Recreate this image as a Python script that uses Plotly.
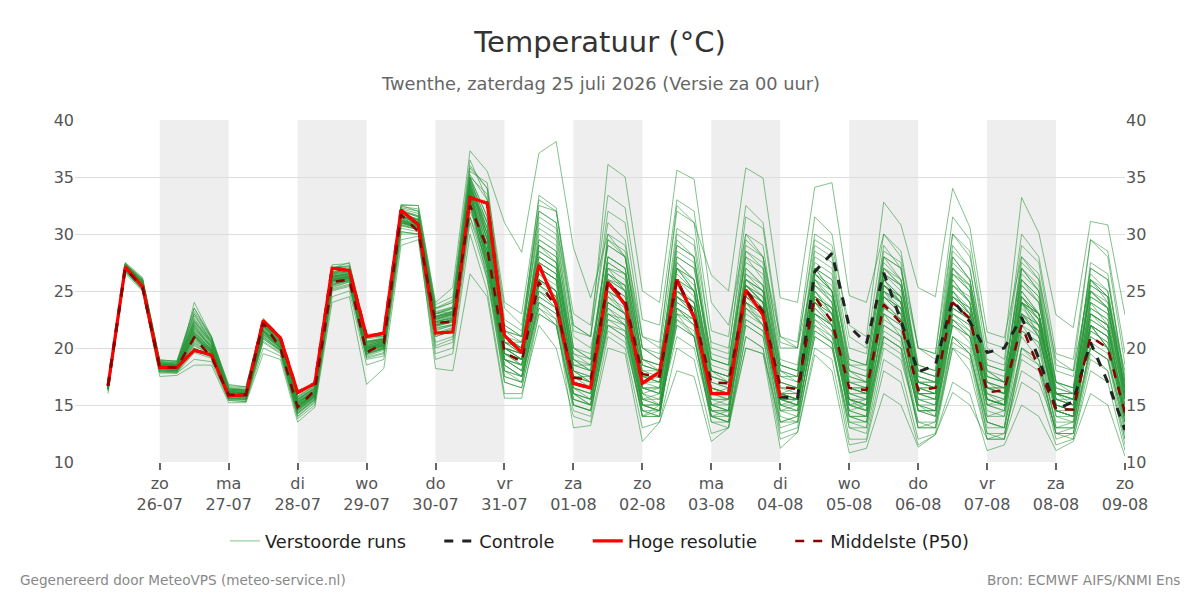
import plotly.graph_objects as go
import pandas as pd

# ---------------- data ----------------
times = pd.date_range("2026-07-25 06:00", periods=60, freq="6h")

tick_dates = ["2026-07-26", "2026-07-27", "2026-07-28", "2026-07-29", "2026-07-30",
              "2026-07-31", "2026-08-01", "2026-08-02", "2026-08-03", "2026-08-04",
              "2026-08-05", "2026-08-06", "2026-08-07", "2026-08-08", "2026-08-09"]
tick_days = ["zo", "ma", "di", "wo", "do", "vr", "za", "zo", "ma", "di", "wo", "do", "vr", "za", "zo"]
tick_dm = ["26-07", "27-07", "28-07", "29-07", "30-07", "31-07", "01-08", "02-08",
           "03-08", "04-08", "05-08", "06-08", "07-08", "08-08", "09-08"]
shade_days = ["2026-07-26", "2026-07-28", "2026-07-30", "2026-08-01",
              "2026-08-03", "2026-08-05", "2026-08-07"]

hres = [16.7, 27.1, 25.4, 18.3, 18.3, 19.8, 19.4, 15.8, 15.9, 22.4, 20.9, 16.1, 16.9, 27.0, 26.8,
        21.0, 21.3, 32.1, 30.8, 21.3, 21.4, 33.2, 32.7, 21.1, 19.6, 27.3, 23.8, 16.9, 16.5, 25.8,
        23.8, 16.9, 17.9, 26.0, 22.7, 16.0, 16.0, 25.1, 22.9, 15.7]

control = [16.7, 27.1, 25.4, 18.3, 18.3, 19.8, 19.4, 15.8, 15.9, 22.4, 20.9, 16.1, 16.9, 27.0, 26.8,
           21.0, 21.3, 32.1, 30.8, 21.3, 21.4, 33.2, 32.7, 21.1, 19.6, 27.3, 23.8, 16.9, 16.5, 25.8,
           23.8, 16.9, 17.9, 26.0, 22.7, 16.0, 16.0, 25.1, 22.9, 15.7, 15.6, 26.7, 28.3, 21.9, 20.4,
           26.6, 22.4, 17.9, 18.5, 24.2, 22.3, 19.6, 20.0, 22.7, 19.1, 14.6, 15.3, 20.5, 17.0, 12.8]

median = [16.7, 27.0, 25.3, 18.3, 18.3, 20.9, 19.2, 15.9, 15.9, 22.2, 20.0, 14.8, 16.3, 25.8, 26.0,
          19.6, 20.4, 31.7, 30.2, 22.2, 22.3, 32.5, 28.8, 19.6, 18.8, 25.8, 23.6, 17.4, 17.2, 25.8,
          24.2, 17.7, 17.5, 26.0, 22.9, 17.0, 16.9, 25.1, 23.2, 16.6, 16.4, 24.5, 22.3, 16.5, 16.3,
          23.8, 22.2, 16.3, 16.5, 24.0, 22.6, 16.1, 16.3, 22.0, 18.2, 14.6, 14.6, 21.0, 20.0, 14.3]

m01 = [16.6,27.3,25.8, 18.6,18.5,22.0,20.0, 16.2,16.0,22.0,20.5, 15.2,16.2,26.2,26.5, 20.2,20.6,31.8,31.0, 22.8,23.0,35.0,30.0, 21.0,20.0,30.0,29.0, 20.0,19.0,28.0,27.0, 18.5,18.0,29.0,28.0, 19.0,18.5,28.0,26.0, 18.0,17.0,27.0,25.0, 17.5,17.0,26.0,24.0, 17.0,16.5,25.0,23.0, 16.5,16.0,24.5,22.5, 16.0,15.5,23.0,21.5, 15.0]
m02 = [16.5,27.0,25.5, 18.2,18.0,21.0,19.5, 15.8,15.6,21.5,20.0, 14.5,15.8,27.0,27.5, 21.0,21.0,32.5,32.5, 24.0,25.3,37.3,35.5, 31.0,28.4,37.1,38.1, 28.8,24.4,30.0,28.0, 20.0,19.0,27.0,25.0, 18.0,17.5,24.0,22.0, 16.0,15.5,22.0,21.0, 15.5,14.5,21.0,20.0, 15.0,14.0,22.5,21.0, 16.0,15.0,24.0,23.0, 17.0,16.0,25.0,23.5, 16.5]
m03 = [16.7,27.4,26.0, 18.8,18.7,23.0,20.5, 16.5,16.3,22.3,20.8, 15.5,16.5,26.5,27.0, 20.5,20.8,32.0,31.5, 23.0,23.5,34.0,31.0, 22.0,21.0,33.4,32.3, 22.0,21.0,36.1,35.0, 25.0,24.0,35.6,34.8, 24.0,22.0,30.0,28.0, 21.0,20.0,27.0,25.0, 18.0,17.0,25.0,24.0, 17.0,16.5,26.0,24.0, 17.0,16.5,24.0,22.0, 16.0,15.5,22.0,20.0, 15.0]
m04 = [16.4,26.9,25.3, 18.0,18.0,20.5,19.5, 15.6,15.5,21.0,19.8, 14.2,15.5,25.5,26.0, 19.5,20.0,31.0,30.5, 22.0,22.5,33.0,28.0, 20.0,19.5,29.0,27.5, 19.0,18.0,30.0,29.0, 21.0,20.5,32.0,31.0, 26.4,25.0,35.8,34.9, 24.4,24.0,34.1,34.5, 24.6,24.0,30.0,28.0, 20.0,19.0,27.0,25.0, 18.0,17.0,24.0,22.0, 16.0,15.0,22.0,20.0, 15.5]
m05 = [16.6,27.1,25.7, 18.5,18.3,21.8,20.0, 16.0,16.0,22.0,20.5, 15.0,16.0,26.0,26.3, 20.0,20.5,31.5,31.0, 22.5,23.0,34.5,29.5, 20.5,19.5,28.0,27.0, 18.5,18.0,27.0,26.0, 18.0,17.5,28.0,27.0, 19.0,18.5,29.0,28.0, 20.0,20.0,30.0,29.0, 22.0,21.0,32.8,30.8, 25.3,24.5,34.0,30.6, 21.4,20.9,28.0,26.0, 19.0,18.0,26.0,24.0, 18.0]
m06 = [16.5,27.0,25.4, 18.4,18.2,21.2,19.8, 15.9,15.8,21.6,20.2, 14.8,15.9,26.2,26.6, 20.5,20.8,32.0,31.2, 23.0,23.2,34.0,27.0, 20.0,19.0,27.0,26.0, 18.0,17.0,26.0,25.0, 17.0,17.5,27.0,25.0, 17.5,17.0,26.0,25.0, 18.0,17.5,27.0,26.0, 19.0,18.5,28.0,27.0, 20.0,19.5,30.0,28.0, 20.5,20.0,33.2,30.1, 22.9,21.8,31.1,30.8, 22.9]
m07 = [16.0,26.5,25.0, 17.5,17.6,18.5,18.5, 15.2,15.2,19.5,19.0, 13.5,14.8,24.0,24.5, 16.8,18.2,29.0,29.5, 19.0,19.5,30.0,25.0, 16.0,16.0,22.0,20.0, 14.0,13.5,21.0,20.0, 13.0,13.5,20.0,19.0, 12.5,13.0,21.0,20.0, 12.0,12.6,20.0,19.0, 11.5,11.8,18.0,17.0, 11.5,12.4,17.0,16.0, 11.0,11.5,15.0,14.0, 11.0,11.8,16.0,15.0, 10.5]
m08 = [16.2,26.7,25.1, 17.8,17.8,19.0,18.8, 15.4,15.3,20.0,19.3, 13.8,15.0,24.5,25.0, 18.5,19.0,29.5,29.8, 19.5,20.0,31.0,26.0, 17.0,16.5,23.5,22.0, 15.0,14.5,22.0,21.0, 14.0,14.0,23.0,21.0, 13.5,13.0,22.0,21.0, 12.5,13.0,21.5,20.5, 12.0,12.0,19.0,18.0, 12.0,12.5,20.0,18.0, 12.0,12.0,17.0,16.0, 11.5,12.0,18.0,17.0, 11.0]
m09 = [16.3,26.8,25.2, 18.0,17.9,24.0,21.0, 15.5,15.4,20.5,19.5, 14.0,15.2,25.0,25.4, 19.0,19.3,30.0,30.0, 20.0,20.5,31.5,27.5, 17.5,17.0,24.0,22.5, 13.0,13.2,20.0,19.5, 11.8,13.5,18.0,17.5, 11.8,13.0,20.0,19.5, 11.2,12.6,19.4,18.0, 10.8,11.2,16.0,15.0, 11.3,12.4,16.1,15.0, 12.0,12.5,18.0,17.0, 13.0,13.0,20.0,19.0, 13.5]
m10 = [16.4,26.9,25.3, 18.1,18.0,20.0,19.2, 15.6,15.6,20.8,19.8, 14.3,15.5,25.3,25.8, 19.3,19.8,30.5,30.2, 20.5,21.0,32.0,28.5, 18.0,17.5,25.0,23.5, 15.5,15.0,23.0,22.0, 14.5,14.5,22.5,21.0, 14.0,14.0,23.5,22.0, 13.5,14.0,22.0,20.5, 13.0,13.0,21.0,20.0, 13.0,13.5,21.0,19.5, 12.5,12.5,19.0,18.0, 12.0,12.5,19.5,18.0, 11.5]
m11 = [16.5,27.2,25.6, 18.3,18.2,21.0,19.8, 16.0,15.9,21.2,20.1, 15.0,16.0,25.8,26.0, 19.5,20.0,31.0,30.8, 21.5,22.0,33.5,29.0, 19.5,19.0,27.0,26.0, 16.5,16.0,24.0,23.0, 15.5,15.5,24.0,23.0, 15.0,15.5,24.0,23.0, 15.5,15.0,23.5,22.0, 15.0,15.5,25.0,23.0, 16.0,16.0,22.0,21.0, 15.0,15.5,24.0,21.0, 14.5,14.0,22.0,20.0, 14.0]
m12 = [16.7,27.5,26.2, 19.0,18.8,23.5,20.8, 16.8,16.6,22.5,21.0, 16.0,17.0,27.0,27.2, 21.0,21.2,32.5,32.0, 23.5,24.0,35.0,33.5, 21.5,20.5,31.5,30.5, 20.0,19.5,29.0,28.0, 19.0,18.5,27.0,26.0, 18.0,17.5,25.0,24.0, 17.0,16.5,26.0,25.0, 17.5,17.0,27.0,26.0, 18.0,17.5,26.0,24.0, 17.0,16.0,23.0,21.0, 15.0,14.5,21.0,20.0, 14.5]
m13 = [16.6,27.0,25.5, 18.6,18.5,22.0,20.3, 16.3,16.2,21.5,20.3, 15.3,16.3,26.3,26.5, 20.0,20.5,31.2,30.9, 22.0,22.5,34.0,30.5, 20.0,19.0,28.0,27.0, 18.0,17.0,25.5,24.0, 16.5,16.0,26.0,24.5, 16.0,15.5,27.0,25.5, 16.0,16.5,25.0,23.0, 15.0,14.5,24.0,22.5, 16.0,15.5,24.0,23.0, 15.5,15.0,23.0,22.0, 14.5,14.0,24.0,23.0, 16.0]
m14 = [16.5,27.1,25.6, 18.4,18.3,21.3,19.9, 16.1,16.0,21.9,20.4, 15.1,16.1,26.1,26.4, 20.1,20.3,31.7,30.7, 22.3,22.6,33.8,28.0, 19.0,18.0,26.0,25.0, 17.0,16.5,28.0,27.0, 19.0,18.0,29.5,28.0, 18.0,17.0,28.5,27.0, 17.0,16.5,24.0,22.0, 15.5,15.0,22.0,21.0, 14.5,14.5,23.0,22.0, 15.0,15.0,21.0,19.0, 13.5,13.5,20.0,19.0, 13.0]
m15 = [16.6,27.3,25.9, 18.7,18.6,22.3,20.6, 16.4,16.3,22.1,20.7, 15.6,16.6,26.7,26.9, 20.6,20.9,32.2,31.8, 23.2,23.6,35.5,34.5, 22.5,21.5,32.0,31.0, 21.0,20.0,27.0,25.0, 17.5,17.0,25.0,23.5, 16.5,16.0,25.5,24.0, 16.0,16.0,26.0,24.0, 16.5,16.0,25.0,24.0, 17.0,17.0,28.0,26.0, 18.0,17.5,27.0,25.0, 17.0,16.5,25.0,23.5, 16.5]
m16 = [16.4,26.8,25.2, 18.0,17.9,20.0,19.3, 15.6,15.5,21.0,19.8, 14.4,15.6,25.5,25.9, 19.6,20.0,30.8,30.4, 21.0,21.5,32.5,27.0, 18.5,17.5,24.0,23.0, 16.0,15.0,23.0,22.0, 15.0,14.5,24.5,23.0, 14.5,14.0,25.5,24.5, 15.0,15.5,24.0,22.5, 14.0,13.5,23.0,21.0, 14.5,14.5,25.0,23.0, 15.5,15.0,27.0,25.0, 15.5,15.0,24.0,22.0, 14.0]
m17 = [16.8,27.4,26.0, 18.9,18.9,23.5,21.0, 16.7,16.6,22.6,21.0, 15.8,16.8,27.3,27.4, 21.2,21.3,32.6,32.5, 23.8,24.5,36.5,33.0, 21.0,20.0,29.0,28.0, 19.5,18.5,29.5,28.5, 20.0,19.5,30.5,29.5, 20.5,20.0,30.0,29.0, 19.0,18.5,28.0,27.0, 18.0,17.5,28.0,27.0, 18.5,18.0,29.0,27.0, 18.0,17.0,27.5,26.0, 17.0,16.5,27.0,26.0, 17.5]
m18 = [16.5,27.0,25.5, 18.3,18.2,20.8,19.6, 15.9,15.8,21.4,20.0, 14.7,15.8,25.9,26.1, 19.8,20.2,31.0,30.5, 21.8,22.0,33.2,28.5, 19.0,18.5,26.5,25.0, 16.0,15.5,24.5,23.0, 15.0,15.0,23.5,22.0, 14.5,14.5,22.5,21.5, 15.0,14.5,21.5,20.5, 13.5,13.0,22.0,21.0, 14.5,14.0,23.5,22.5, 15.0,14.5,22.0,20.0, 13.0,13.5,21.5,20.5, 13.5]
m19 = [16.6,27.2,25.7, 18.5,18.4,21.6,20.1, 16.1,16.1,22.0,20.4, 15.1,16.2,26.3,26.5, 20.2,20.6,31.6,31.2, 22.6,23.0,34.5,30.0, 20.5,20.0,29.0,28.0, 18.5,18.5,25.0,23.0, 16.0,15.0,21.0,20.0, 14.0,13.5,20.0,19.5, 13.5,14.0,22.5,21.0, 14.5,15.0,25.5,24.0, 16.5,16.0,24.5,23.5, 17.0,16.5,26.0,24.0, 16.0,15.5,23.0,22.0, 15.5]
m20 = [16.3,26.7,25.1, 17.9,17.9,19.8,19.2, 15.5,15.5,20.8,19.7, 14.2,15.4,25.2,25.6, 19.2,19.6,30.2,30.0, 20.2,20.8,31.5,26.5, 17.0,16.5,23.0,22.0, 14.5,14.0,22.5,21.5, 14.0,14.5,23.5,22.5, 15.0,15.0,24.5,23.5, 16.0,15.5,26.5,25.0, 17.0,16.5,27.0,25.5, 17.5,17.0,25.5,24.0, 16.5,16.0,25.0,23.0, 15.0,14.5,26.0,25.0, 17.0]
m21 = [16.7,27.3,25.9, 18.7,18.5,22.8,20.8, 16.4,16.3,22.2,20.6, 15.5,16.5,26.6,26.8, 20.5,20.8,32.0,31.5, 23.0,23.5,35.0,31.5, 20.0,19.5,28.5,27.5, 18.0,17.5,28.0,27.0, 18.5,18.0,28.5,27.5, 18.0,17.5,27.0,25.5, 17.5,17.0,25.0,23.0, 16.0,15.5,26.5,25.5, 17.0,16.5,28.0,26.0, 17.5,17.0,28.0,26.5, 18.0,17.5,26.5,25.0, 16.0]
m22 = [16.5,27.1,25.6, 18.4,18.2,21.4,19.8, 16.0,15.9,21.7,20.2, 14.9,15.9,26.0,26.2, 19.9,20.3,31.3,30.6, 22.0,22.3,33.5,28.5, 18.5,17.5,25.5,24.5, 16.5,16.0,25.0,24.0, 16.5,16.5,26.0,25.0, 16.5,16.0,25.0,23.5, 15.0,15.0,24.0,23.0, 15.5,15.0,24.0,22.5, 14.5,14.0,22.0,20.5, 13.0,13.0,20.0,19.0, 12.5,13.0,22.0,21.0, 14.0]
m23 = [16.6,27.2,25.8, 18.6,18.5,22.2,20.4, 16.2,16.2,22.1,20.5, 15.3,16.3,26.4,26.7, 20.3,20.7,31.8,31.2, 22.8,23.2,34.8,31.0, 20.5,19.5,27.5,26.5, 17.5,16.5,27.0,26.5, 18.5,18.0,30.0,29.0, 19.0,18.5,29.5,28.0, 18.5,18.0,29.0,28.0, 19.0,18.5,28.5,27.5, 17.5,17.0,27.5,26.0, 18.5,18.0,26.0,24.5, 16.5,16.0,27.5,26.5, 17.0]
m24 = [16.4,26.9,25.4, 18.2,18.1,20.6,19.6, 15.8,15.7,21.3,20.0, 14.6,15.7,25.8,26.1, 19.8,20.2,31.1,30.7, 21.7,22.1,33.0,27.5, 19.5,18.5,26.0,25.0, 17.0,16.5,23.5,22.0, 15.0,14.5,22.0,21.0, 13.5,13.5,21.0,20.0, 13.0,13.5,23.0,22.0, 14.0,14.0,24.5,23.5, 15.5,15.0,23.0,22.0, 14.0,14.5,22.5,21.5, 14.0,14.0,21.5,20.5, 13.5]
m25 = [16.6,27.2,25.7, 18.5,18.4,21.9,20.2, 16.2,16.0,21.9,20.5, 15.2,16.2,26.2,26.4, 20.1,20.5,31.5,31.0, 22.5,22.9,34.0,30.0, 21.5,21.0,30.5,29.5, 19.0,18.5,26.5,25.5, 17.5,17.0,25.0,23.5, 16.5,16.0,26.0,24.5, 16.0,15.5,25.5,24.0, 16.5,16.0,25.0,23.5, 16.0,16.0,23.0,21.5, 15.5,15.0,22.0,21.0, 15.0,14.5,23.0,22.0, 15.5]
m26 = [16.5,27.0,25.5, 18.3,18.3,21.1,19.7, 16.0,15.8,21.5,20.1, 14.8,15.9,26.0,26.2, 19.9,20.2,31.2,30.6, 22.2,22.5,33.6,28.0, 18.0,17.0,24.5,23.5, 15.5,15.0,25.0,24.0, 15.5,16.0,27.5,26.0, 17.5,17.0,26.5,25.5, 17.0,16.5,24.5,23.5, 16.5,16.0,23.0,22.0, 15.0,14.5,21.0,19.5, 13.5,13.0,20.0,18.5, 12.5,12.0,19.0,18.0, 12.0]
m27 = [16.7,27.3,25.9, 18.8,18.6,22.5,20.6, 16.4,16.3,22.3,20.7, 15.5,16.5,26.7,26.8, 20.6,20.8,32.1,31.6, 23.1,23.6,35.2,33.0, 23.5,22.0,32.0,31.0, 22.0,21.0,31.0,29.5, 20.0,19.0,28.0,27.0, 19.5,19.0,27.5,26.5, 18.5,18.0,26.5,25.5, 18.0,17.5,25.5,24.5, 17.0,16.5,25.5,24.5, 17.5,17.0,25.0,23.0, 16.5,16.0,26.0,24.5, 16.5]
m28 = [16.4,26.9,25.3, 18.2,18.1,20.4,19.5, 15.7,15.7,21.2,19.9, 14.5,15.6,25.6,25.9, 19.5,20.0,30.9,30.5, 21.3,21.8,32.8,27.0, 19.0,18.0,25.0,24.0, 16.0,15.5,23.5,22.5, 14.5,14.0,24.0,23.0, 14.0,14.5,25.5,24.5, 15.5,15.0,25.5,24.0, 15.0,14.5,26.0,24.5, 16.5,16.0,24.0,22.5, 15.5,15.0,24.0,23.0, 15.5,15.0,24.5,23.5, 15.5]
m29 = [16.6,27.1,25.6, 18.4,18.3,21.4,19.9, 16.0,16.0,21.8,20.3, 15.0,16.0,26.1,26.3, 20.0,20.4,31.4,30.8, 22.3,22.7,33.8,29.5, 20.0,19.0,27.5,26.5, 17.0,16.5,26.0,25.0, 16.5,16.5,24.5,23.0, 15.0,14.5,23.5,22.5, 14.5,14.5,24.0,22.5, 15.5,15.0,27.0,25.5, 17.0,16.5,26.5,25.0, 16.5,16.0,24.0,22.5, 15.0,14.5,23.5,22.5, 15.0]
m30 = [16.5,27.0,25.5, 18.3,18.2,21.0,19.7, 15.9,15.9,21.6,20.1, 14.9,16.0,26.0,26.2, 20.0,20.3,31.2,30.7, 22.2,22.4,33.4,28.0, 19.0,18.5,26.0,24.5, 16.0,15.5,24.0,23.0, 15.5,15.0,23.0,22.0, 14.5,14.5,24.5,23.5, 15.5,15.0,23.0,21.5, 14.0,13.5,21.5,20.5, 13.5,13.5,22.5,21.0, 14.5,14.0,23.5,22.0, 14.5,14.5,21.0,20.0, 13.0]
m31 = [16.6,27.2,25.8, 18.6,18.5,22.4,20.5, 16.3,16.2,22.2,20.6, 15.4,16.4,26.5,26.7, 20.4,20.7,31.7,31.3, 22.7,23.2,34.6,30.5, 20.5,20.5,28.5,27.5, 19.5,19.0,29.5,28.0, 19.0,18.5,27.5,26.0, 18.0,17.5,28.5,27.5, 18.5,18.0,27.5,26.5, 18.5,18.5,29.0,27.0, 18.0,17.5,26.5,25.5, 17.5,17.0,24.5,22.5, 16.0,15.5,25.5,24.5, 16.5]
m32 = [16.5,27.1,25.6, 18.4,18.3,21.5,19.9, 16.1,16.0,21.8,20.3, 15.0,16.0,26.1,26.3, 20.0,20.4,31.5,31.0, 22.4,22.8,34.0,29.0, 20.0,19.0,26.5,25.5, 17.5,17.0,25.5,24.5, 17.0,16.5,25.5,24.0, 16.5,16.0,24.0,23.0, 16.0,15.5,25.0,23.5, 16.0,15.5,23.5,22.5, 16.0,15.5,24.5,23.0, 16.0,15.5,23.0,21.0, 14.5,14.0,22.5,21.5, 14.5]
m33 = [16.4,26.8,25.3, 18.1,18.0,20.2,19.4, 15.7,15.6,21.1,19.9, 14.5,15.7,25.6,25.9, 19.5,19.9,30.8,30.4, 21.0,21.6,32.6,26.0, 18.5,17.5,23.5,22.5, 15.0,14.5,21.5,20.5, 14.5,14.0,23.0,22.5, 15.5,15.5,25.5,24.0, 15.5,15.5,26.5,25.0, 16.5,16.5,25.5,24.0, 17.0,17.0,27.0,25.5, 16.5,16.5,26.0,24.5, 16.0,15.5,25.5,24.5, 16.0]
m34 = [16.7,27.4,26.0, 18.8,18.7,23.0,20.9, 16.5,16.4,22.4,20.8, 15.7,16.7,27.0,27.1, 20.8,21.0,32.3,32.0, 23.4,24.0,35.8,34.0, 22.0,21.0,32.5,32.0, 21.5,21.0,32.0,31.0, 21.0,20.0,32.5,31.0, 20.0,19.5,31.5,30.5, 20.5,20.0,29.5,28.5, 20.0,19.5,28.0,26.0, 18.5,18.0,30.0,28.5, 19.0,18.5,29.0,27.5, 18.5,18.0,29.5,28.0, 18.5]
m35 = [16.5,27.0,25.4, 18.3,18.2,20.9,19.6, 15.9,15.8,21.4,20.0, 14.7,15.8,25.9,26.1, 19.7,20.1,31.0,30.6, 21.9,22.3,33.3,27.5, 19.5,19.0,25.5,24.0, 16.5,15.5,22.0,21.5, 15.0,14.5,22.0,21.0, 14.0,13.5,22.5,21.5, 14.0,13.5,21.0,20.0, 13.0,12.5,20.0,19.0, 13.5,13.0,20.5,19.5, 13.5,13.0,21.5,20.5, 13.0,13.0,22.0,21.0, 13.5]
m36 = [16.6,27.2,25.7, 18.5,18.4,21.7,20.1, 16.2,16.1,22.0,20.4, 15.2,16.2,26.3,26.5, 20.2,20.6,31.6,31.1, 22.6,23.0,34.2,30.0, 20.5,20.0,29.5,28.5, 19.0,18.0,27.5,26.5, 17.5,17.0,26.5,25.0, 17.0,16.5,25.5,24.0, 16.5,16.5,24.5,23.0, 16.0,16.0,24.5,23.5, 16.5,16.0,25.0,23.5, 15.5,15.0,24.0,23.0, 15.5,15.0,23.5,22.5, 15.5]
m37 = [16.4,26.9,25.4, 18.2,18.1,20.7,19.7, 15.8,15.7,21.2,20.0, 14.6,15.7,25.7,26.0, 19.7,20.1,31.0,30.6, 21.6,22.0,33.0,26.5, 17.5,17.0,24.0,23.0, 15.0,14.5,22.5,22.0, 14.0,15.0,24.5,23.5, 15.0,14.5,23.5,22.0, 14.5,14.0,22.5,21.5, 14.0,14.0,22.5,21.5, 14.5,14.5,22.0,21.0, 13.5,13.0,24.5,23.0, 14.5,14.0,23.0,22.0, 14.0]
m38 = [16.6,27.1,25.6, 18.4,18.3,21.3,19.9, 16.0,15.9,21.7,20.2, 14.9,15.9,26.0,26.3, 20.0,20.4,31.4,30.8, 22.3,22.7,34.0,29.0, 19.5,18.5,27.0,26.0, 17.5,17.5,26.5,25.0, 16.5,16.0,25.0,24.0, 16.0,16.5,26.5,25.0, 16.5,16.0,26.0,24.5, 16.5,16.5,26.5,25.0, 16.5,16.5,25.5,24.0, 16.5,16.0,26.5,25.0, 16.0,16.0,26.0,24.5, 16.5]
m39 = [16.5,27.0,25.5, 18.3,18.2,21.1,19.7, 15.9,15.8,21.5,20.1, 14.8,15.9,25.9,26.2, 19.9,20.2,31.2,30.7, 22.1,22.5,33.6,27.5, 19.0,18.0,25.0,24.0, 16.0,15.0,23.0,22.5, 15.0,14.5,23.5,22.0, 14.5,14.0,24.0,23.0, 14.5,15.0,23.0,22.0, 14.5,14.0,21.0,20.0, 13.0,13.0,20.0,19.0, 12.0,12.0,19.5,18.5, 12.5,12.5,20.0,19.0, 12.0]
m40 = [16.7,27.3,25.9, 18.7,18.6,22.6,20.7, 16.4,16.3,22.3,20.7, 15.5,16.5,26.6,26.8, 20.5,20.8,32.0,31.6, 23.0,23.4,35.0,31.5, 21.0,20.0,29.5,28.5, 18.0,17.5,26.0,25.5, 18.0,18.0,27.0,26.0, 17.5,17.0,26.0,25.0, 17.5,17.5,26.5,25.0, 17.0,17.0,26.5,25.5, 17.5,17.0,27.0,25.5, 17.0,16.5,25.5,24.0, 16.0,16.0,25.0,24.0, 16.0]
m41 = [16.5,27.1,25.6, 18.4,18.3,21.2,19.8, 16.0,15.9,21.6,20.2, 14.9,15.9,26.0,26.3, 20.0,20.3,31.3,30.8, 22.3,22.6,33.8,28.5, 19.5,19.0,26.0,25.0, 17.0,16.5,25.0,24.0, 16.0,15.5,24.5,23.5, 15.5,15.5,24.5,23.0, 15.5,15.0,24.0,23.0, 15.5,15.0,24.5,23.0, 15.5,15.5,23.5,22.5, 15.5,15.0,23.0,22.0, 15.0,14.5,22.5,21.5, 14.5]
m42 = [16.6,27.2,25.7, 18.5,18.4,21.8,20.2, 16.2,16.1,22.0,20.4, 15.2,16.2,26.3,26.5, 20.2,20.6,31.6,31.1, 22.7,23.1,34.3,30.5, 21.0,20.5,28.0,27.0, 18.5,18.0,27.5,26.5, 17.5,17.5,27.0,25.5, 17.0,16.5,25.0,24.0, 16.0,16.0,25.5,24.5, 16.5,16.0,25.5,24.0, 16.0,15.5,24.5,23.5, 16.5,16.0,24.0,22.5, 15.5,15.0,24.5,23.5, 15.5]
m43 = [16.4,26.8,25.3, 18.1,18.0,20.3,19.4, 15.6,15.5,20.9,19.8, 14.3,15.5,25.4,25.8, 19.4,19.9,30.7,30.4, 21.2,21.7,32.7,27.0, 18.0,17.5,24.5,23.5, 15.5,15.0,24.0,23.0, 15.0,15.0,25.0,24.0, 15.5,15.0,25.0,23.5, 15.5,15.5,24.5,23.5, 15.0,14.5,24.5,23.0, 15.5,15.0,23.5,22.5, 15.0,14.5,22.5,21.5, 14.5,14.0,23.0,22.0, 14.5]
m44 = [16.6,27.2,25.8, 18.6,18.5,22.1,20.4, 16.3,16.2,22.1,20.6, 15.3,16.3,26.4,26.6, 20.3,20.7,31.8,31.2, 22.7,23.1,34.5,29.5, 20.0,19.5,27.0,26.0, 17.5,17.0,26.5,25.5, 17.0,17.0,26.0,25.0, 16.5,16.0,26.0,25.0, 16.5,16.5,27.0,26.0, 17.0,16.5,26.0,24.5, 16.5,16.5,26.5,25.0, 16.5,16.5,25.5,24.0, 16.0,16.0,25.0,23.5, 16.0]
m45 = [16.5,27.0,25.5, 18.3,18.2,21.0,19.6, 15.9,15.8,21.4,20.0, 14.7,15.8,25.9,26.1, 19.8,20.2,31.1,30.6, 21.9,22.3,33.3,27.5, 19.0,18.5,25.5,24.5, 16.5,16.0,24.0,23.0, 15.5,15.0,23.5,22.5, 15.0,14.5,23.0,22.0, 15.0,14.5,23.5,22.0, 14.5,14.0,23.0,22.0, 15.0,14.5,22.5,21.5, 14.0,14.0,21.5,20.5, 14.0,13.5,22.0,21.0, 14.0]
m46 = [16.7,27.4,26.1, 18.9,18.8,23.2,21.0, 16.6,16.5,22.5,20.9, 15.7,16.7,27.1,27.2, 20.9,21.1,32.4,32.2, 23.5,24.2,36.0,34.0, 24.0,23.0,33.0,32.0, 23.0,22.0,33.4,32.3, 22.5,22.0,33.0,32.0, 21.5,21.0,32.5,31.0, 21.0,20.5,31.5,30.0, 21.0,20.0,30.0,28.5, 20.0,19.5,31.5,29.5, 20.0,19.0,30.0,28.0, 19.5,19.0,29.5,28.5, 19.5]
m47 = [16.3,26.7,25.1, 17.9,17.8,19.6,19.1, 15.4,15.3,20.6,19.6, 14.0,15.3,25.1,25.5, 19.1,19.5,30.2,30.0, 18.2,18.0,26.5,24.5, 15.6,15.6,23.0,22.0, 15.0,14.5,22.0,21.0, 14.0,14.0,22.5,21.5, 14.0,13.5,22.0,21.0, 13.5,13.5,21.0,20.0, 13.5,13.5,20.5,19.5, 13.0,13.0,21.0,20.0, 12.5,12.0,20.0,19.0, 12.5,12.5,20.5,19.5, 12.5]
m48 = [16.6,27.1,25.7, 18.5,18.4,21.6,20.1, 16.1,16.1,21.9,20.4, 15.1,16.1,26.2,26.4, 20.1,20.5,31.5,31.0, 22.5,22.9,34.2,29.5, 20.0,19.5,27.5,26.5, 17.5,17.0,25.5,24.5, 16.5,16.0,24.5,23.5, 16.0,15.5,25.5,24.0, 15.5,15.5,24.5,23.5, 15.5,15.5,25.5,24.5, 16.0,16.0,24.5,23.0, 16.0,15.5,24.5,23.0, 15.5,15.5,24.0,23.0, 15.5]
m49 = [16.5,27.0,25.5, 18.3,18.2,21.1,19.7, 15.9,15.8,21.5,20.0, 14.8,15.8,25.9,26.1, 19.8,20.2,31.1,30.6, 22.0,22.4,33.5,28.0, 19.5,19.0,26.0,25.0, 17.0,16.5,24.5,23.5, 16.0,16.5,25.0,24.0, 16.5,16.0,24.0,22.5, 16.0,15.5,23.0,22.0, 15.0,15.0,23.5,22.5, 15.0,15.0,24.0,22.5, 15.5,15.0,23.0,21.5, 14.5,14.0,22.0,21.0, 14.0]
m50 = [16.6,27.3,25.8, 18.6,18.5,22.3,20.5, 16.3,16.2,22.2,20.6, 15.4,16.4,26.5,26.7, 20.4,20.7,31.8,31.3, 22.8,23.2,34.7,31.0, 21.5,21.0,31.0,30.0, 20.0,19.0,29.0,28.0, 19.0,18.5,29.0,28.0, 18.5,18.0,28.0,27.0, 18.0,17.5,28.5,27.5, 18.5,18.0,27.5,26.0, 18.0,17.5,28.5,27.0, 18.5,18.0,27.0,25.5, 17.0,16.5,27.0,26.0, 17.0]

members = [m01, m02, m03, m04, m05, m06, m07, m08, m09, m10, m11, m12, m13, m14, m15, m16, m17,
           m18, m19, m20, m21, m22, m23, m24, m25, m26, m27, m28, m29, m30, m31, m32, m33, m34,
           m35, m36, m37, m38, m39, m40, m41, m42, m43, m44, m45, m46, m47, m48, m49, m50]
for k, m in enumerate(members):
    assert len(m) == 60, (k + 1, len(m))

# ---------------- figure ----------------
FONT = "DejaVu Sans"
PAD = "\u00a0" * 5
fig = go.Figure()

for k, m in enumerate(members):
    fig.add_trace(go.Scatter(
        x=times, y=m, mode="lines", name="Verstoorde runs" + PAD,
        legendgroup="runs", showlegend=(k == 0),
        line=dict(color="rgba(40,150,55,0.58)", width=1),
        hoverinfo="skip"))

fig.add_trace(go.Scatter(x=times, y=control, mode="lines", name="Controle" + PAD,
                         line=dict(color="#222222", width=3, dash="dash")))
fig.add_trace(go.Scatter(x=times[:len(hres)], y=hres, mode="lines", name="Hoge resolutie" + PAD,
                         line=dict(color="#ff0000", width=3.2)))
fig.add_trace(go.Scatter(x=times, y=median, mode="lines", name="Middelste (P50)",
                         line=dict(color="#8b0000", width=2.5, dash="dash")))
# helper trace for the right-hand axis
fig.add_trace(go.Scatter(x=[times[0]], y=[None], yaxis="y2", showlegend=False,
                         hoverinfo="skip", mode="lines"))

shapes = []
for d in shade_days:
    d0 = pd.Timestamp(d)
    shapes.append(dict(type="rect", xref="x", yref="paper", x0=d0, x1=d0 + pd.Timedelta(days=1),
                       y0=0, y1=1, fillcolor="#eeeeee", line=dict(width=0), layer="below"))

ticktext = [f"{a}<br>{b}" for a, b in zip(tick_days, tick_dm)]

fig.update_layout(
    width=1200, height=600,
    paper_bgcolor="white", plot_bgcolor="white",
    margin=dict(l=75, r=75, t=120, b=138),
    font=dict(family=FONT, color="#444"),
    title=dict(text="Temperatuur (°C)", x=0.5, xanchor="center", y=1 - 42 / 600, yanchor="middle",
               font=dict(size=29, color="#333333", family=FONT)),
    shapes=shapes,
    showlegend=True,
    legend=dict(orientation="h", x=0.5, xanchor="center", y=-0.232, yanchor="middle",
                font=dict(size=17.8, color="#222222", family=FONT), bgcolor="rgba(0,0,0,0)"),
    xaxis=dict(type="date", range=["2026-07-24 18:30", "2026-08-09 00:00"],
               tickvals=tick_dates, ticktext=ticktext, showgrid=False, zeroline=False,
               ticks="outside", ticklen=7, tickwidth=2, tickcolor="#666666",
               tickfont=dict(size=16, color="#555555"), showline=False),
    yaxis=dict(range=[10, 40], tickvals=[10, 15, 20, 25, 30, 35, 40], showgrid=True,
               gridcolor="#dddddd", gridwidth=1, zeroline=False,
               tickfont=dict(size=16, color="#555555")),
    yaxis2=dict(range=[10, 40], tickvals=[10, 15, 20, 25, 30, 35, 40], overlaying="y",
                side="right", showgrid=False, zeroline=False,
                tickfont=dict(size=16, color="#555555")),
    annotations=[
        dict(text="Twenthe, zaterdag 25 juli 2026 (Versie za 00 uur)", xref="paper", yref="paper",
             x=0.5, y=(462 - 84) / 342, xanchor="center", yanchor="middle", showarrow=False,
             font=dict(size=17.8, color="#666666", family=FONT)),
        dict(text="Gegenereerd door MeteoVPS (meteo-service.nl)", xref="paper", yref="paper",
             x=(18 - 75) / 1050, y=(462 - 580) / 342, xanchor="left", yanchor="middle",
             showarrow=False, font=dict(size=13.6, color="#888888", family=FONT)),
        dict(text="Bron: ECMWF AIFS/KNMI Ens", xref="paper", yref="paper",
             x=(1182 - 75) / 1050, y=(462 - 580) / 342, xanchor="right", yanchor="middle",
             showarrow=False, font=dict(size=13.6, color="#888888", family=FONT)),
    ],
)

fig.write_html("out.html")
